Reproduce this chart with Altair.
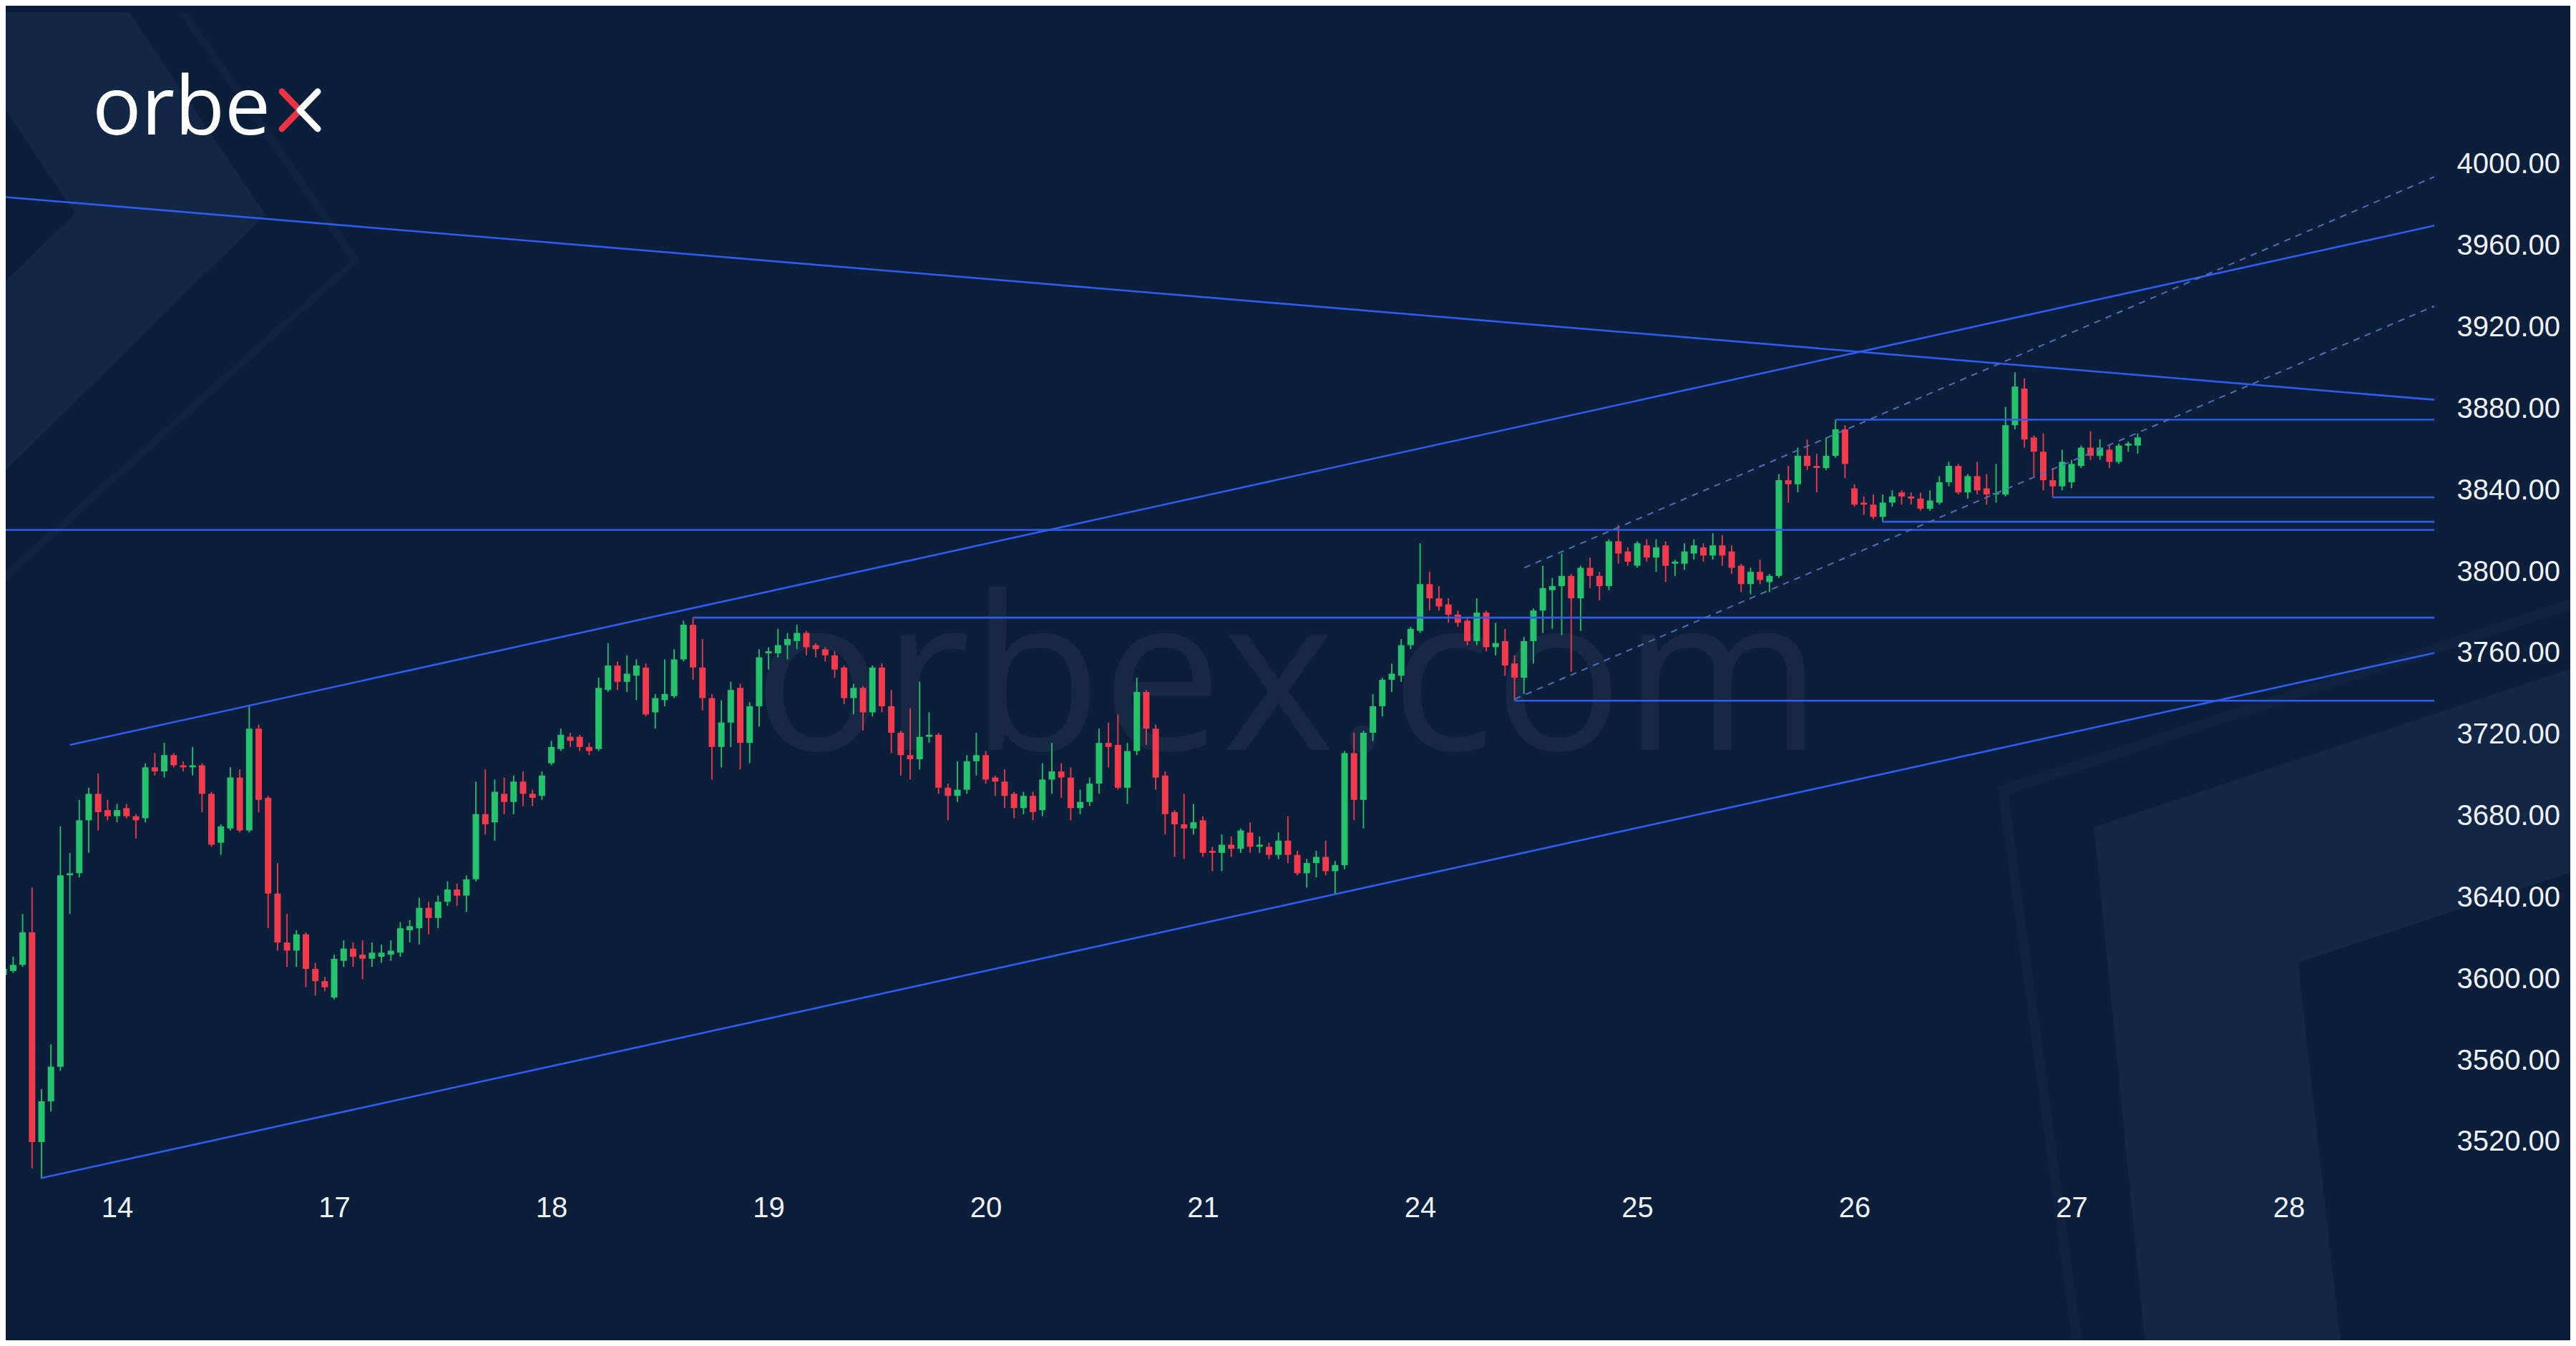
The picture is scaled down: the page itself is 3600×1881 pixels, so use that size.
import altair as alt
import pandas as pd

# ---------------- values ----------------
DAY_LABELS = ["14", "17", "18", "19", "20", "21", "24", "25", "26", "27", "28"]
BARS_PER_DAY = 23          # hourly candles per session
FIRST_LABELLED_BAR = 12    # the candle that sits under the "14" label

OPEN = [
    3602, 3604, 3607, 3623, 3520, 3540, 3557, 3651, 3652, 3678,
    3691, 3683, 3680, 3684, 3680, 3679, 3704, 3702, 3710, 3705,
    3704, 3705, 3691, 3667, 3674, 3699, 3673, 3723, 3689, 3642,
    3618, 3614, 3622, 3605, 3599, 3591, 3609, 3615, 3612, 3610,
    3611, 3612, 3613, 3624, 3625, 3635, 3630, 3638, 3644, 3641,
    3649, 3681, 3677, 3691, 3687, 3697, 3691, 3690, 3706, 3713,
    3719, 3719, 3714, 3713, 3742, 3754, 3746, 3749, 3753, 3731,
    3737, 3739, 3757, 3774, 3753, 3738, 3714, 3726, 3743, 3716,
    3734, 3760, 3760, 3764, 3766, 3770, 3764, 3762, 3759, 3753,
    3738, 3743, 3731, 3753, 3734, 3721, 3710, 3708, 3719, 3720,
    3694, 3690, 3693, 3707, 3710, 3699, 3697, 3691, 3684, 3690,
    3683, 3698, 3702, 3699, 3684, 3687, 3696, 3716, 3715, 3694,
    3712, 3741, 3723, 3700, 3682, 3676, 3674, 3678, 3663, 3662,
    3666, 3664, 3672, 3665, 3665, 3661, 3668, 3661, 3652, 3657,
    3660, 3653, 3656, 3711, 3688, 3721, 3734, 3747, 3749, 3764,
    3771, 3794, 3787, 3784, 3779, 3776, 3766, 3780, 3763, 3766,
    3755, 3748, 3766, 3781, 3791, 3793, 3798, 3787, 3802, 3798,
    3793, 3815, 3810, 3803, 3813, 3807, 3813, 3804, 3804, 3809,
    3812, 3808, 3813, 3810, 3803, 3794, 3800, 3795, 3798, 3845,
    3843, 3857, 3852, 3851, 3857, 3870, 3841, 3834, 3833, 3827,
    3834, 3839, 3837, 3836, 3831, 3834, 3844, 3852, 3839, 3847,
    3841, 3838, 3838, 3872, 3890, 3866, 3859, 3845, 3842, 3844,
    3852, 3861, 3857, 3860, 3854, 3862, 3862,
]
HIGH = [
    3606, 3611, 3632, 3645, 3546, 3568, 3675, 3662, 3688, 3694,
    3701, 3688, 3686, 3686, 3681, 3706, 3711, 3716, 3711, 3707,
    3714, 3706, 3692, 3676, 3704, 3703, 3734, 3725, 3690, 3657,
    3632, 3624, 3623, 3608, 3601, 3612, 3619, 3618, 3619, 3618,
    3617, 3619, 3628, 3629, 3640, 3638, 3641, 3648, 3647, 3651,
    3697, 3703, 3698, 3699, 3700, 3702, 3693, 3702, 3717, 3723,
    3721, 3720, 3716, 3748, 3765, 3756, 3759, 3757, 3755, 3740,
    3757, 3762, 3776, 3777.5, 3767, 3740, 3737, 3746, 3745, 3736,
    3762, 3763, 3772, 3770, 3774, 3771, 3765, 3763, 3761, 3754,
    3745, 3744, 3754, 3755, 3742, 3722, 3733, 3746, 3731, 3721,
    3696, 3707, 3710, 3721, 3712, 3700, 3703, 3692, 3692, 3692,
    3706, 3716, 3706, 3704, 3693, 3699, 3723, 3726, 3730, 3716,
    3748, 3742, 3725, 3702, 3683, 3691, 3686, 3680, 3665, 3671,
    3670, 3674, 3677, 3670, 3667, 3672, 3680, 3663, 3659, 3663,
    3668, 3658, 3712, 3721, 3722, 3740, 3748, 3755, 3767, 3773,
    3814, 3800, 3793, 3787, 3781, 3778, 3787, 3781, 3775, 3772,
    3759, 3768, 3782, 3803, 3797, 3809, 3799, 3803, 3807, 3800,
    3816, 3823, 3812, 3815, 3816, 3816, 3815, 3806, 3814, 3816,
    3814, 3819, 3818, 3813, 3804, 3802, 3806, 3799, 3848, 3852,
    3861, 3865, 3858, 3866, 3874.7, 3872, 3843, 3837, 3838, 3838,
    3840, 3840, 3839, 3839, 3840, 3847, 3854, 3853, 3848, 3854,
    3848, 3853, 3881, 3898, 3895, 3867, 3868, 3851, 3860, 3855,
    3862, 3869, 3865, 3862, 3863, 3864, 3868,
]
LOW = [
    3600, 3603, 3606, 3507, 3502, 3535, 3555, 3632, 3650, 3662,
    3673, 3678, 3677, 3679, 3669, 3677, 3700, 3699, 3704, 3702,
    3700, 3682, 3665, 3661, 3673, 3672, 3672, 3682, 3625, 3614,
    3606, 3606, 3596, 3592, 3594, 3590, 3606, 3606, 3600, 3606,
    3608, 3609, 3611, 3618, 3617, 3622, 3625, 3636, 3636, 3633,
    3648, 3671, 3668, 3681, 3681, 3685, 3685, 3688, 3705, 3712,
    3714, 3712, 3710, 3712, 3741, 3742, 3741, 3737, 3729, 3723,
    3734, 3738, 3756, 3747, 3732, 3698, 3704, 3714, 3703, 3706,
    3724, 3752, 3758, 3757, 3762, 3759, 3758, 3756, 3748, 3735,
    3730, 3722, 3729, 3731, 3711, 3700, 3698, 3703, 3716, 3691,
    3678, 3687, 3691, 3700, 3696, 3690, 3684, 3679, 3681, 3678,
    3680, 3691, 3689, 3678, 3681, 3685, 3691, 3704, 3693, 3686,
    3710, 3715, 3693, 3671, 3660, 3659, 3671, 3660, 3653, 3653,
    3660, 3662, 3662, 3662, 3659, 3659, 3657, 3651, 3645, 3650,
    3651, 3642, 3654, 3678, 3674, 3717, 3729, 3741, 3746, 3762,
    3770, 3781, 3781, 3775, 3773, 3764, 3764, 3761, 3759, 3749,
    3737, 3740, 3755, 3770, 3772, 3769, 3751, 3771, 3792, 3786,
    3791, 3804, 3803, 3802, 3805, 3800, 3795, 3798, 3801, 3806,
    3805, 3806, 3803, 3799, 3790, 3789, 3794, 3790, 3797, 3834,
    3839, 3850, 3839, 3850, 3856, 3846, 3832, 3828, 3826, 3824.6,
    3832, 3833, 3833, 3830, 3830, 3833, 3842, 3838, 3836, 3838,
    3833, 3834, 3837, 3870, 3861, 3847, 3840, 3836.6, 3840, 3841,
    3851, 3855, 3855, 3851, 3853, 3859, 3858,
]
CLOSE = [
    3605, 3607, 3623, 3520, 3540, 3557, 3651, 3652, 3678, 3691,
    3682, 3680, 3683, 3680, 3678, 3704, 3702, 3710, 3705, 3704,
    3705, 3691, 3666, 3675, 3699, 3673, 3723, 3688, 3642, 3618,
    3614, 3622, 3605, 3599, 3596, 3610, 3615, 3611, 3610, 3613,
    3613, 3614, 3625, 3626, 3635, 3630, 3638, 3644, 3641, 3649,
    3681, 3676, 3692, 3687, 3697, 3691, 3689, 3700, 3714, 3720,
    3717, 3714, 3712, 3743, 3754, 3746, 3750, 3754, 3730, 3738,
    3740, 3757, 3774, 3753, 3738, 3714, 3726, 3742, 3716, 3734,
    3758, 3761, 3764, 3767, 3770, 3763, 3762, 3759, 3752, 3738,
    3743, 3731, 3753, 3734, 3721, 3710, 3708, 3719, 3720, 3694,
    3690, 3693, 3707, 3710, 3698, 3697, 3690, 3684, 3690, 3682,
    3698, 3702, 3699, 3684, 3687, 3696, 3716, 3714, 3694, 3712,
    3741, 3723, 3699, 3681, 3676, 3674, 3677, 3662, 3662, 3666,
    3664, 3673, 3665, 3666, 3661, 3668, 3661, 3652, 3657, 3660,
    3653, 3656, 3711, 3688, 3721, 3734, 3747, 3750, 3764, 3772,
    3794, 3787, 3783, 3779, 3775, 3766, 3780, 3763, 3765, 3754,
    3748, 3766, 3781, 3792, 3793, 3798, 3787, 3802, 3798, 3793,
    3815, 3809, 3805, 3814, 3807, 3812, 3803, 3805, 3810, 3813,
    3808, 3813, 3808, 3802, 3794, 3800, 3796, 3798, 3845, 3843,
    3857, 3852, 3851, 3857, 3870, 3853, 3833, 3833, 3827, 3834,
    3837, 3837, 3836, 3831, 3835, 3844, 3852, 3839, 3847, 3840,
    3838, 3838.6, 3872, 3891, 3865, 3859, 3845, 3842, 3854, 3853,
    3861, 3857, 3861, 3854, 3862, 3863, 3866,
]

PRICE_TICKS = [3520, 3560, 3600, 3640, 3680, 3720, 3760, 3800, 3840, 3880, 3920, 3960, 4000]

# drawn trend / level lines: start and end as (day position, price)
SOLID_D0 = [-0.522, -0.217, -0.348, -0.522, 8.130, 8.913, 7.913, 2.652, 6.435]
SOLID_P0 = [3984.1, 3715.0, 3502.3, 3820.6, 3824.6, 3836.6, 3874.7, 3777.5, 3736.7]
SOLID_D1 = [10.67, 10.67, 10.67, 10.67, 10.67, 10.67, 10.67, 10.67, 10.67]
SOLID_P1 = [3884.5, 3970.0, 3760.2, 3820.6, 3824.6, 3836.6, 3874.7, 3777.5, 3736.7]
DASHED_D0 = [6.48, 6.435]
DASHED_P0 = [3802.0, 3737.5]
DASHED_D1 = [10.67, 10.67]
DASHED_P1 = [3994.0, 3930.5]

# ---------------- layout & style ----------------
PLOT_W, PLOT_H = 3404, 1652            # plot area (page x 8..3412, y 8..1660)
PAD_RIGHT, PAD_BOTTOM = 180, 213       # room for the price and day labels
X_DOMAIN = [-0.4961, 10.6866]
Y_DOMAIN = [3497.5, 4078.0]

# page-pixel -> data mapping of this layout (used only for the decorative shapes)
X0_PX, PX_PER_DAY = 159.0, 304.4
Y0_PX, PX_PER_POINT = 230.0, 2.846

BG = "#0b1e3a"
SHAPE = "#112745"
STRIPE = "#0f2341"
UP = "#25c26c"
DOWN = "#f23a4c"
LINE = "#2f5cf0"
DASH = "#4f6fb8"
TEXT = "#eef1f6"
FONT = "Liberation Sans"
LABEL_SIZE = 40

# decorative background shapes, page pixel coordinates
SHAPES_LIGHT = [
    [(0, 17), (176, 17), (367, 300), (0, 660), (0, 396), (100, 298), (0, 150)],
    [(3600, 934), (2930, 1156), (3002, 1881), (3276, 1881), (3216, 1345), (3600, 1219)],
]
SHAPES_STRIPE = [
    [(245, 17), (258, 17), (500, 364), (0, 815), (0, 800), (486, 364)],
    [(3600, 836), (2795, 1099), (2900, 1881), (2914, 1881), (2810, 1110), (3600, 851)],
]


def shapes_frame(shapes):
    rows = []
    for s, pts in enumerate(shapes):
        ring = list(pts) + [pts[0]]
        for k, (px, py) in enumerate(ring):
            rows.append({
                "shape": s, "k": k,
                "d": (px - X0_PX) / PX_PER_DAY,
                "p": 4000.0 - (py - Y0_PX) / PX_PER_POINT,
            })
    return pd.DataFrame(rows)


candles = pd.DataFrame({
    "bar": list(range(len(OPEN))),
    "open": OPEN, "high": HIGH, "low": LOW, "close": CLOSE,
})
candles["day"] = (candles["bar"] - FIRST_LABELLED_BAR) / BARS_PER_DAY
candles["dir"] = ["up" if c >= o else "down" for o, c in zip(OPEN, CLOSE)]

solid = pd.DataFrame({"d0": SOLID_D0, "p0": SOLID_P0, "d1": SOLID_D1, "p1": SOLID_P1})
dashed = pd.DataFrame({"d0": DASHED_D0, "p0": DASHED_P0, "d1": DASHED_D1, "p1": DASHED_P1})

xs = alt.Scale(domain=X_DOMAIN, nice=False, zero=False)
ys = alt.Scale(domain=Y_DOMAIN, nice=False, zero=False)

label_expr = "[" + ",".join("'%s'" % d for d in DAY_LABELS) + "][datum.value]"
x_axis = alt.Axis(values=list(range(len(DAY_LABELS))), labelExpr=label_expr, title=None,
                  grid=False, domain=False, ticks=False, labelFont=FONT, labelFontSize=LABEL_SIZE,
                  labelColor=TEXT, labelPadding=28, labelBaseline="middle", labelFlush=False,
                  labelOverlap=False, orient="bottom", zindex=2)
y_axis = alt.Axis(values=PRICE_TICKS, format=".2f", title=None, grid=False, domain=False,
                  ticks=False, labelFont=FONT, labelFontSize=LABEL_SIZE, labelColor=TEXT,
                  labelPadding=21, labelAlign="left", labelBaseline="middle", labelFlush=False,
                  labelOverlap=False, orient="right", zindex=2)


def X(field):
    return alt.X(field, scale=xs, axis=x_axis)


def Y(field):
    return alt.Y(field, scale=ys, axis=y_axis)


color = alt.Color("dir:N", scale=alt.Scale(domain=["up", "down"], range=[UP, DOWN]), legend=None)


def shape_layer(shapes, fill):
    return alt.Chart(shapes_frame(shapes)).mark_line(
        fill=fill, strokeWidth=0, strokeOpacity=0, interpolate="linear"
    ).encode(
        x=X("d:Q"),
        y=Y("p:Q"),
        order="k:Q",
        detail="shape:N",
    )


bg_light = shape_layer(SHAPES_LIGHT, SHAPE)
bg_stripe = shape_layer(SHAPES_STRIPE, STRIPE)

watermark = alt.Chart(pd.DataFrame({"t": ["orbex.com"]})).mark_text(
    font="Open Sans", fontSize=300, color="#ffffff", opacity=0.045,
    align="left", baseline="alphabetic"
).encode(text="t:N", x=alt.value(1045), y=alt.value(1040))

wicks = alt.Chart(candles).mark_rule(strokeWidth=1.8, clip=True).encode(
    x=X("day:Q"),
    y=Y("low:Q"),
    y2="high:Q",
    color=color,
)
bodies = alt.Chart(candles).mark_bar(size=9, clip=True).encode(
    x=X("day:Q"),
    y=Y("open:Q"),
    y2="close:Q",
    color=color,
)

solid_lines = alt.Chart(solid).mark_rule(color=LINE, strokeWidth=2.6, clip=True).encode(
    x=X("d0:Q"), x2="d1:Q",
    y=Y("p0:Q"), y2="p1:Q",
)
dashed_lines = alt.Chart(dashed).mark_rule(color=DASH, strokeWidth=2, strokeDash=[9, 8], clip=True).encode(
    x=X("d0:Q"), x2="d1:Q",
    y=Y("p0:Q"), y2="p1:Q",
)

logo_text = alt.Chart(pd.DataFrame({"t": ["orbe"]})).mark_text(
    font="Open Sans", fontSize=114, color="#ffffff", align="left", baseline="alphabetic"
).encode(text="t:N", x=alt.value(121), y=alt.value(180))


def stroke(x1, y1, x2, y2, c):
    return alt.Chart(pd.DataFrame({"k": [0]})).mark_rule(
        color=c, strokeWidth=9, strokeCap="round"
    ).encode(x=alt.value(x1), y=alt.value(y1), x2=alt.value(x2), y2=alt.value(y2))


logo_x = [
    stroke(386, 120, 411, 146, "#ec3344"),
    stroke(411, 146, 386, 172, "#ec3344"),
    stroke(436, 120, 411, 146, "#ffffff"),
    stroke(411, 146, 436, 172, "#ffffff"),
]

chart = alt.layer(
    bg_light, bg_stripe, watermark, wicks, bodies, solid_lines, dashed_lines, logo_text, *logo_x
).properties(
    width=PLOT_W, height=PLOT_H,
    padding={"left": 0, "top": 0, "right": PAD_RIGHT, "bottom": PAD_BOTTOM},
    autosize=alt.AutoSizeParams(type="none"),
    background=BG,
).configure_view(strokeWidth=0)

chart.save("out.html", embed_options={"renderer": "svg", "actions": False})
